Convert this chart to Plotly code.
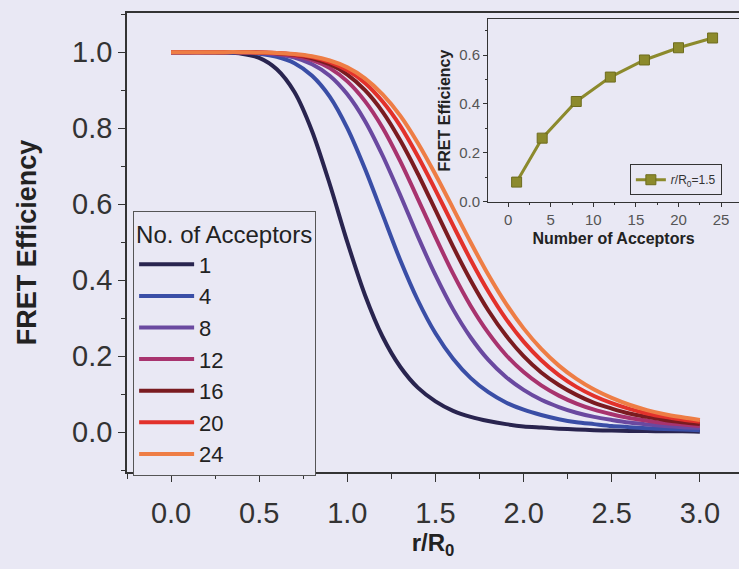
import plotly.graph_objects as go

# ---- data ----
r_ratio = [0.0, 0.1, 0.2, 0.3, 0.4, 0.5, 0.6, 0.7, 0.8, 0.9, 1.0, 1.1, 1.2, 1.3, 1.4, 1.5,
           1.6, 1.7, 1.8, 1.9, 2.0, 2.1, 2.2, 2.3, 2.4, 2.5, 2.6, 2.7, 2.8, 2.9, 3.0]

eff_1 = [1.000, 1.000, 1.000, 0.999, 0.996, 0.985, 0.955, 0.895, 0.792, 0.653, 0.500, 0.361, 0.251, 0.172, 0.117, 0.081,
         0.056, 0.040, 0.029, 0.021, 0.015, 0.012, 0.009, 0.007, 0.005, 0.004, 0.003, 0.003, 0.002, 0.002, 0.001]
eff_4 = [1.000, 1.000, 1.000, 1.000, 0.999, 0.996, 0.988, 0.971, 0.938, 0.883, 0.800, 0.693, 0.573, 0.453, 0.347, 0.260,
         0.193, 0.142, 0.105, 0.078, 0.059, 0.045, 0.034, 0.026, 0.021, 0.016, 0.013, 0.010, 0.008, 0.007, 0.005]
eff_8 = [1.000, 1.000, 1.000, 1.000, 0.999, 0.998, 0.994, 0.986, 0.968, 0.938, 0.889, 0.819, 0.728, 0.624, 0.515, 0.413,
         0.323, 0.249, 0.190, 0.145, 0.111, 0.085, 0.066, 0.051, 0.040, 0.032, 0.025, 0.020, 0.016, 0.013, 0.011]
eff_12 = [1.000, 1.000, 1.000, 1.000, 1.000, 0.999, 0.996, 0.990, 0.979, 0.958, 0.923, 0.871, 0.801, 0.713, 0.614, 0.513,
          0.417, 0.332, 0.261, 0.203, 0.158, 0.123, 0.096, 0.075, 0.059, 0.047, 0.037, 0.030, 0.024, 0.020, 0.016]
eff_16 = [1.000, 1.000, 1.000, 1.000, 1.000, 0.999, 0.997, 0.993, 0.984, 0.968, 0.941, 0.900, 0.843, 0.768, 0.680, 0.584,
          0.488, 0.399, 0.320, 0.254, 0.200, 0.157, 0.124, 0.098, 0.077, 0.062, 0.049, 0.040, 0.032, 0.026, 0.021]
eff_20 = [1.000, 1.000, 1.000, 1.000, 1.000, 0.999, 0.998, 0.994, 0.987, 0.974, 0.952, 0.919, 0.870, 0.806, 0.726, 0.637,
          0.544, 0.453, 0.370, 0.298, 0.238, 0.189, 0.150, 0.119, 0.095, 0.076, 0.061, 0.049, 0.040, 0.033, 0.027]
eff_24 = [1.000, 1.000, 1.000, 1.000, 1.000, 0.999, 0.998, 0.995, 0.989, 0.978, 0.960, 0.931, 0.889, 0.833, 0.761, 0.678,
          0.589, 0.499, 0.414, 0.338, 0.273, 0.219, 0.175, 0.140, 0.112, 0.090, 0.072, 0.058, 0.047, 0.039, 0.032]

series_labels = ["1", "4", "8", "12", "16", "20", "24"]
series_values = [eff_1, eff_4, eff_8, eff_12, eff_16, eff_20, eff_24]
series_colors = ["#29244f", "#3a4ea6", "#6a49a0", "#a8336e", "#7a1b20", "#e2312b", "#ee7d45"]

inset_acceptors = [1, 4, 8, 12, 16, 20, 24]
inset_eff = [0.08, 0.26, 0.41, 0.51, 0.58, 0.63, 0.67]

BG = "#e9e8f4"
FONT = "Liberation Sans, Arial, sans-serif"

fig = go.Figure()

for lab, vals, col in zip(series_labels, series_values, series_colors):
    fig.add_trace(go.Scatter(
        x=r_ratio, y=vals, mode="lines", name=lab,
        line=dict(color=col, width=4, shape="spline", smoothing=0.8),
        xaxis="x", yaxis="y", legend="legend",
    ))

fig.add_trace(go.Scatter(
    x=inset_acceptors, y=inset_eff, mode="lines+markers",
    name="<i>r</i>/R<sub>0</sub>=1.5",
    line=dict(color="#8c8a2c", width=3),
    marker=dict(symbol="square", size=10, color="#8c8a2c", line=dict(color="#6e6c1e", width=1)),
    xaxis="x2", yaxis="y2", legend="legend2",
))

axis_common = dict(showgrid=False, zeroline=False, showline=True, linecolor="#333",
                   ticks="outside", tickcolor="#333")

fig.update_layout(
    width=739, height=569,
    margin=dict(l=127, r=0, t=13, b=97),
    paper_bgcolor=BG, plot_bgcolor=BG,
    font=dict(family=FONT, color="#333"),
    xaxis=dict(**axis_common, linewidth=1.5, range=[-0.25, 3.222], tickvals=[0, 0.5, 1, 1.5, 2, 2.5, 3],
               ticktext=["0.0", "0.5", "1.0", "1.5", "2.0", "2.5", "3.0"],
               ticklen=8, mirror=True, tickfont=dict(size=29, color="#333"),
               minor=dict(ticks="outside", ticklen=5, tickcolor="#333", dtick=0.25, tick0=0),
               ticklabelstandoff=6,
               title=dict(text="<b>r/R<sub>0</sub></b>", font=dict(size=24, color="#222"), standoff=4),
               domain=[0, 1]),
    yaxis=dict(**axis_common, linewidth=1.5, range=[-0.105, 1.103], tickvals=[0, 0.2, 0.4, 0.6, 0.8, 1.0],
               ticktext=["0.0", "0.2", "0.4", "0.6", "0.8", "1.0"],
               ticklen=7, tickfont=dict(size=29, color="#333"),
               minor=dict(ticks="outside", ticklen=4, tickcolor="#333", dtick=0.1, tick0=0),
               title=dict(text="<b>FRET Efficiency</b>", font=dict(size=27, color="#222"), standoff=28),
               domain=[0, 1]),
    xaxis2=dict(**axis_common, anchor="y2", domain=[0.590, 1.0], range=[-2.35, 27.1],
                tickvals=[0, 5, 10, 15, 20, 25], mirror=True, ticklen=4, linewidth=1,
                tickfont=dict(size=15, color="#555"),
                minor=dict(ticks="outside", ticklen=2, tickcolor="#333", dtick=2.5, tick0=0),
                title=dict(text="<b>Number of Acceptors</b>", font=dict(size=16, color="#222"), standoff=6)),
    yaxis2=dict(**axis_common, anchor="x2", domain=[0.589, 0.986], range=[0, 0.746],
                tickvals=[0, 0.2, 0.4, 0.6], ticktext=["0.0", "0.2", "0.4", "0.6"],
                mirror=True, ticklen=4, linewidth=1,
                tickfont=dict(size=15, color="#555"),
                minor=dict(ticks="outside", ticklen=2, tickcolor="#333", dtick=0.1, tick0=0),
                title=dict(text="<b>FRET Efficiency</b>", font=dict(size=16, color="#222"), standoff=4)),
    legend=dict(x=0.01, y=0.568, xanchor="left", yanchor="top",
                bgcolor=BG, bordercolor="#555", borderwidth=1,
                font=dict(size=22, color="#222"),
                title=dict(text="No. of Acceptors", font=dict(size=24, color="#222"), side="top"),
                tracegroupgap=0, itemwidth=55),
    legend2=dict(x=0.972, y=0.603, xanchor="right", yanchor="bottom",
                 bgcolor=BG, bordercolor="#333", borderwidth=1,
                 font=dict(size=12, color="#333"), itemwidth=30),
)

fig.write_html("out.html", config={"displayModeBar": False},
               post_script="document.body.style.margin='0px';document.body.style.background='%s';" % BG)
